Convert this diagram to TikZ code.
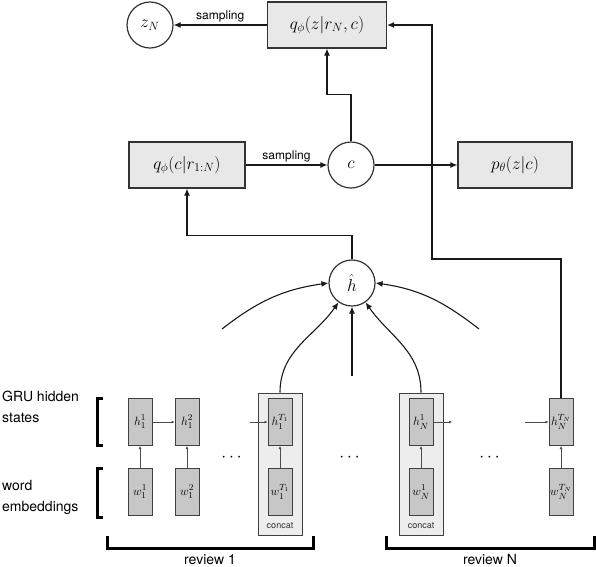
\documentclass[tikz,border=0pt]{standalone}
\usepackage{amsmath, amssymb}
\usepackage{fontspec}
\newfontfamily\helv{TeX Gyre Heros}
\usetikzlibrary{arrows.meta}
\tikzset{
    latent/.style={
        draw=black!80,
        circle,
        fill=white,
        minimum size=46pt,
        inner sep=0pt,
        line width=1.2pt,
        font=\fontsize{17}{20}\selectfont
    },
    dist/.style={
        draw=black!80,
        rectangle,
        fill=black!9,
        minimum height=46pt,
        line width=1.2pt,
        font=\fontsize{17}{20}\selectfont
    },
    cell/.style={
        draw=black!75,
        rectangle,
        fill=black!22,
        minimum width=24pt,
        minimum height=47pt,
        inner sep=0pt,
        line width=1pt,
        font=\fontsize{13}{15}\selectfont
    },
    catbox/.style={
        draw=black!75,
        rectangle,
        fill=black!7,
        minimum width=44pt,
        minimum height=142pt,
        line width=1pt
    },
    flow/.style={
        draw=black!90,
        -{Latex[length=7pt, width=6pt]},
        line width=1.1pt
    },
    step arrow/.style={
        draw=black!70,
        -{Latex[length=3pt, width=3pt]},
        line width=0.7pt
    },
    lbl/.style={font=\helv\fontsize{12}{14}\selectfont, inner sep=2pt},
    side/.style={font=\helv\fontsize{14}{21}\selectfont, align=left, anchor=west, inner sep=0pt},
    brace/.style={line width=3pt}
}

\begin{document}
\begin{tikzpicture}[x=1pt, y=1pt]
    \useasboundingbox (0,0) rectangle (596,-566);

    % Top: latent variables and distributions
    \node[latent] (zN) at (150,-25) {$z_N$};
    \node[dist, minimum width=119pt] (qz) at (327,-25) {$q_\phi(z|r_N,c)$};
    \node[dist, minimum width=116pt] (qc) at (187,-165) {$q_\phi(c|r_{1:N})$};
    \node[latent] (c) at (351,-165) {$c$};
    \node[dist, minimum width=114pt] (pz) at (515,-165) {$p_\theta(z|c)$};
    \node[latent] (hhat) at (352,-283) {$\hat{h}$};

    % Concat boxes
    \node[catbox] (cat1) at (280,-464) {};
    \node[catbox] (cat2) at (421,-464) {};
    \node[font=\helv\fontsize{9}{10}\selectfont, text=black!80] (catlbl1) at (280,-526) {concat};
    \node[font=\helv\fontsize{9}{10}\selectfont, text=black!80] (catlbl2) at (421,-526) {concat};

    % GRU hidden states
    \node[cell] (h11) at (140,-422) {$h_1^1$};
    \node[cell] (h12) at (187,-422) {$h_1^2$};
    \node[cell] (h1T) at (280,-422) {$h_1^{T_1}$};
    \node[cell] (hN1) at (421,-422) {$h_N^1$};
    \node[cell] (hNT) at (561,-422) {$h_N^{T_N}$};

    % Word embeddings
    \node[cell] (w11) at (140,-492) {$w_1^1$};
    \node[cell] (w12) at (187,-492) {$w_1^2$};
    \node[cell] (w1T) at (280,-492) {$w_1^{T_1}$};
    \node[cell] (wN1) at (421,-492) {$w_N^1$};
    \node[cell] (wNT) at (561,-492) {$w_N^{T_N}$};

    % Dots
    \node[font=\fontsize{16}{18}\selectfont] (dots1) at (233,-458) {$\cdots$};
    \node[font=\fontsize{16}{18}\selectfont] (dots2) at (351,-458) {$\cdots$};
    \node[font=\fontsize{16}{18}\selectfont] (dots3) at (491,-458) {$\cdots$};

    % Free ends
    \coordinate (in1) at (250,-422);
    \coordinate (out2) at (452,-422);
    \coordinate (in3) at (525,-422);
    \coordinate (mid) at (352,-376);
    \coordinate (arcL) at (222,-329);
    \coordinate (arcR) at (479,-329);
    \coordinate (turn) at (432,-259);

    % Top edges
    \draw[flow] (qz) to node[lbl, above] {sampling} (zN);
    \draw[flow] (qc) to node[lbl, above] {sampling} (c);
    \draw[flow] (c) to (pz);
    \draw[flow] (c.north) -- ++(0,47) -| (qz.south);
    \draw[flow] (hhat.north) -- ++(0,24) -| (qc.south);
    \draw[flow] (hNT.north) |- (turn) |- (qz.east);

    % Into h-hat
    \draw[flow] (cat1.north) to[out=90, in=235] (hhat);
    \draw[flow] (cat2.north) to[out=90, in=-55] (hhat);
    \draw[flow] (mid) to (hhat.south);
    \draw[flow] (arcL) to[out=38, in=188] (hhat.west);
    \draw[flow] (arcR) to[out=142, in=-8] (hhat.east);

    % Recurrence and inputs
    \draw[step arrow] (h11) to (h12);
    \draw[step arrow] (in1) to (h1T);
    \draw[step arrow] (hN1) to (out2);
    \draw[step arrow] (in3) to (hNT);
    \foreach \i in {11,12,1T,N1,NT}
        \draw[step arrow] (w\i) to (h\i);

    % Brackets and labels
    \node[side] (gru) at (2,-407) {GRU hidden\\states};
    \node[side] (emb) at (2,-497) {word\\embeddings};
    \draw[brace] (103,-398) -| (97,-445) -- (103,-445);
    \draw[brace] (103,-468) -| (97,-517) -- (103,-517);
    \draw[brace] (107,-536) |- (313,-548) -- (313,-536);
    \draw[brace] (386,-536) |- (594,-548) -- (594,-536);
    \node[font=\helv\fontsize{14}{16}\selectfont, anchor=north] (rev1) at (210,-551) {review 1};
    \node[font=\helv\fontsize{14}{16}\selectfont, anchor=north] (revN) at (490,-551) {review N};
\end{tikzpicture}
\end{document}
